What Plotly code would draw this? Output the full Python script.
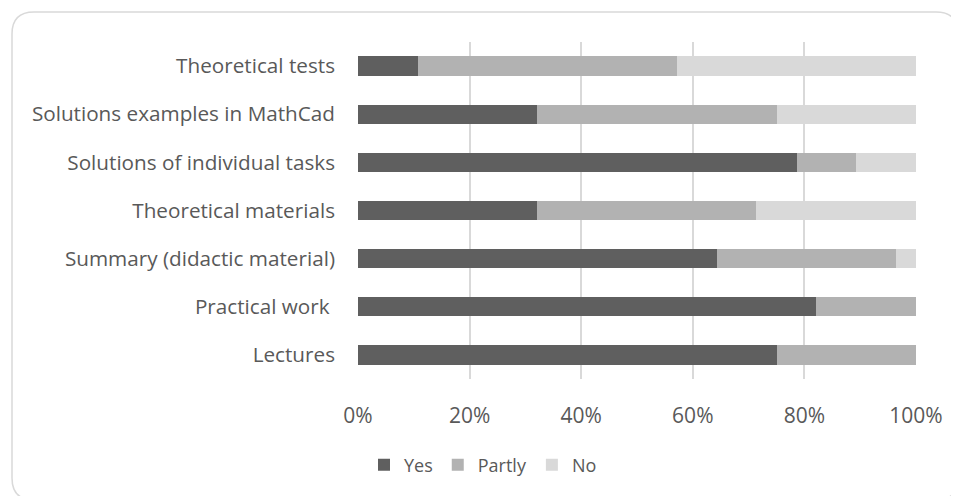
import plotly.graph_objects as go

categories = [
    "Theoretical tests",
    "Solutions examples in MathCad",
    "Solutions of individual tasks",
    "Theoretical materials",
    "Summary (didactic material)",
    "Practical work ",
    "Lectures",
]
yes_vals = [10.7, 32.1, 78.6, 32.1, 64.3, 82.1, 75.0]
partly_vals = [46.4, 42.9, 10.7, 39.3, 32.1, 17.9, 25.0]
no_vals = [42.9, 25.0, 10.7, 28.6, 3.6, 0.0, 0.0]
x_ticks = [0, 20, 40, 60, 80, 100]
x_ticktext = ["0%", "20%", "40%", "60%", "80%", "100%"]

series = [("Yes", yes_vals, "#5f5f5f"), ("Partly", partly_vals, "#b2b2b2"), ("No", no_vals, "#d9d9d9")]

fig = go.Figure()
for name, vals, col in series:
    fig.add_trace(go.Bar(y=categories, x=vals, name=name, orientation="h",
                         marker=dict(color=col, line=dict(width=0))))

O = 8  # page body margin offset
W, H = 959 - O, 496 - O
L, R, T, B = 358 - O, 916 - O, 42 - O, 379 - O
pw, ph = R - L, B - T

def px(x):
    return (x - O - L) / pw

def py(y):
    return (B - (y - O)) / ph

x0, x1, y0, y1, r = 12, 958, 12, 500, 22
path = (
    f"M {px(x0 + r)},{py(y0)} L {px(x1 - r)},{py(y0)} "
    f"Q {px(x1)},{py(y0)} {px(x1)},{py(y0 + r)} "
    f"L {px(x1)},{py(y1 - r)} Q {px(x1)},{py(y1)} {px(x1 - r)},{py(y1)} "
    f"L {px(x0 + r)},{py(y1)} Q {px(x0)},{py(y1)} {px(x0)},{py(y1 - r)} "
    f"L {px(x0)},{py(y0 + r)} Q {px(x0)},{py(y0)} {px(x0 + r)},{py(y0)} Z"
)

fig.update_layout(
    barmode="stack",
    bargap=0.6,
    width=W, height=H,
    margin=dict(l=L, r=W - R, t=T, b=H - B, pad=0),
    paper_bgcolor="white", plot_bgcolor="white",
    font=dict(family="Open Sans", size=20, color="#595959"),
    showlegend=True,
    legend=dict(orientation="h", x=px(364), xanchor="left", y=py(465), yanchor="middle",
                font=dict(size=18, color="#595959"), traceorder="normal"),
    shapes=[dict(type="path", xref="paper", yref="paper", path=path,
                 line=dict(color="#d9d9d9", width=1.5), fillcolor="rgba(0,0,0,0)", layer="below")],
    xaxis=dict(range=[0, 100], tickvals=x_ticks, ticktext=x_ticktext, showgrid=True,
               gridcolor="#d9d9d9", gridwidth=1.5, zeroline=False, showline=False,
               ticks="", ticklabelstandoff=22, tickfont=dict(size=21), fixedrange=True),
    yaxis=dict(autorange="reversed", showgrid=False, showline=False, ticks="",
               ticklabelstandoff=22, tickfont=dict(size=20.7), fixedrange=True),
)

fig.write_html("out.html")
